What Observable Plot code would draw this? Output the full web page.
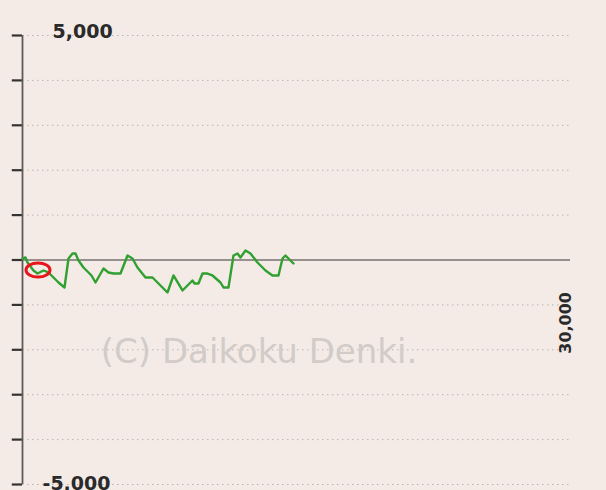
<!DOCTYPE html>
<html>
<head>
<meta charset="utf-8">
<script src="https://cdn.jsdelivr.net/npm/d3@7"></script>
<script src="https://cdn.jsdelivr.net/npm/@observablehq/plot@0.6"></script>
<style>
  html, body { margin: 0; padding: 0; background: #f4ebe7; }
  #chart { width: 606px; height: 490px; overflow: hidden; }
</style>
</head>
<body>
<div id="chart"></div>
<script>
// Games played (x) and medal difference (y)
const games = [0, 164, 274, 602, 821, 1150, 1423, 1697, 1971, 2299, 2518, 2737, 2901, 3066, 3339, 3613, 3777, 3996, 4215, 4434, 4707, 4981, 5365, 5748, 6021, 6295, 6733, 7116, 7445, 7937, 8266, 8758, 9306, 9415, 9634, 9853, 10127, 10401, 10839, 11003, 11277, 11550, 11769, 11934, 12207, 12481, 12864, 13302, 13685, 14014, 14233, 14397, 14671, 14835];
const diff = [30, 56, -56, -234, -301, -234, -278, -390, -501, -612, 33, 145, 145, -11, -167, -278, -345, -501, -345, -189, -278, -301, -301, 100, 33, -167, -390, -390, -523, -724, -345, -679, -457, -523, -523, -301, -301, -345, -501, -612, -612, 100, 145, 56, 212, 145, -56, -234, -345, -345, 33, 100, -11, -78];
const yTicks = [-5000, -4000, -3000, -2000, -1000, 0, 1000, 2000, 3000, 4000, 5000];
const gridLines = yTicks.filter(v => v !== 0);
const topLabel = ["5,000"];
const bottomLabel = ["-5,000"];
const xEndLabel = ["30,000"];
const watermark = ["(C) Daikoku Denki."];
const marker = [{g: 876, v: -234}];

const series = games.map((g, i) => ({g, v: diff[i]}));

const plot = Plot.plot({
  width: 606,
  height: 490,
  marginLeft: 22,
  marginRight: 36,
  marginTop: 35,
  marginBottom: 6,
  style: {background: "#f4ebe7", fontFamily: "DejaVu Sans", color: "#333", overflow: "hidden"},
  x: {domain: [0, 30000], axis: null},
  y: {domain: [-5000, 5000], axis: null},
  marks: [
    Plot.ruleY(gridLines, {x1: 0, x2: 30000, stroke: "#b9b4b1", strokeWidth: 1, strokeDasharray: "1.5,3.5"}),
    Plot.text(watermark, {x: 12950, y: -2050, text: d => d, fontSize: 34, fill: "#d2cbc7", fontFamily: "DejaVu Sans"}),
    Plot.ruleY([0], {x1: 0, x2: 30000, stroke: "#777372", strokeWidth: 1.7}),
    // left tick marks (about 10px long, pointing left)
    Plot.ruleY(yTicks, {x1: -560, x2: 0, stroke: "#333", strokeWidth: 2.2}),
    Plot.ruleX([0], {y1: -5000, y2: 5000, stroke: "#5e5a59", strokeWidth: 1.8}),
    Plot.line(series, {x: "g", y: "v", stroke: "#30a030", strokeWidth: 2.4}),
    Plot.text(topLabel, {x: 0, y: 5000, text: d => d, dx: 30, dy: -4, textAnchor: "start", lineAnchor: "middle", fontSize: 19, fontWeight: "bold", fill: "#2a2a2a"}),
    Plot.text(bottomLabel, {x: 0, y: -5000, text: d => d, dx: 20, dy: -1, textAnchor: "start", lineAnchor: "middle", fontSize: 19, fontWeight: "bold", fill: "#2a2a2a"}),
    Plot.text(xEndLabel, {x: 30000, y: -1400, text: d => d, rotate: -90, lineAnchor: "bottom", fontSize: 16, fontWeight: "bold", fill: "#2a2a2a"})
  ]
});

// Red ellipse marker placed through the plot's own scales
const sx = plot.scale("x"), sy = plot.scale("y");
const m = marker[0];
d3.select(plot).append("ellipse")
  .attr("cx", sx.apply(m.g))
  .attr("cy", sy.apply(m.v))
  .attr("rx", 12)
  .attr("ry", 7)
  .attr("fill", "none")
  .attr("stroke", "#e8161b")
  .attr("stroke-width", 3);

document.getElementById("chart").append(plot);
</script>
</body>
</html>
